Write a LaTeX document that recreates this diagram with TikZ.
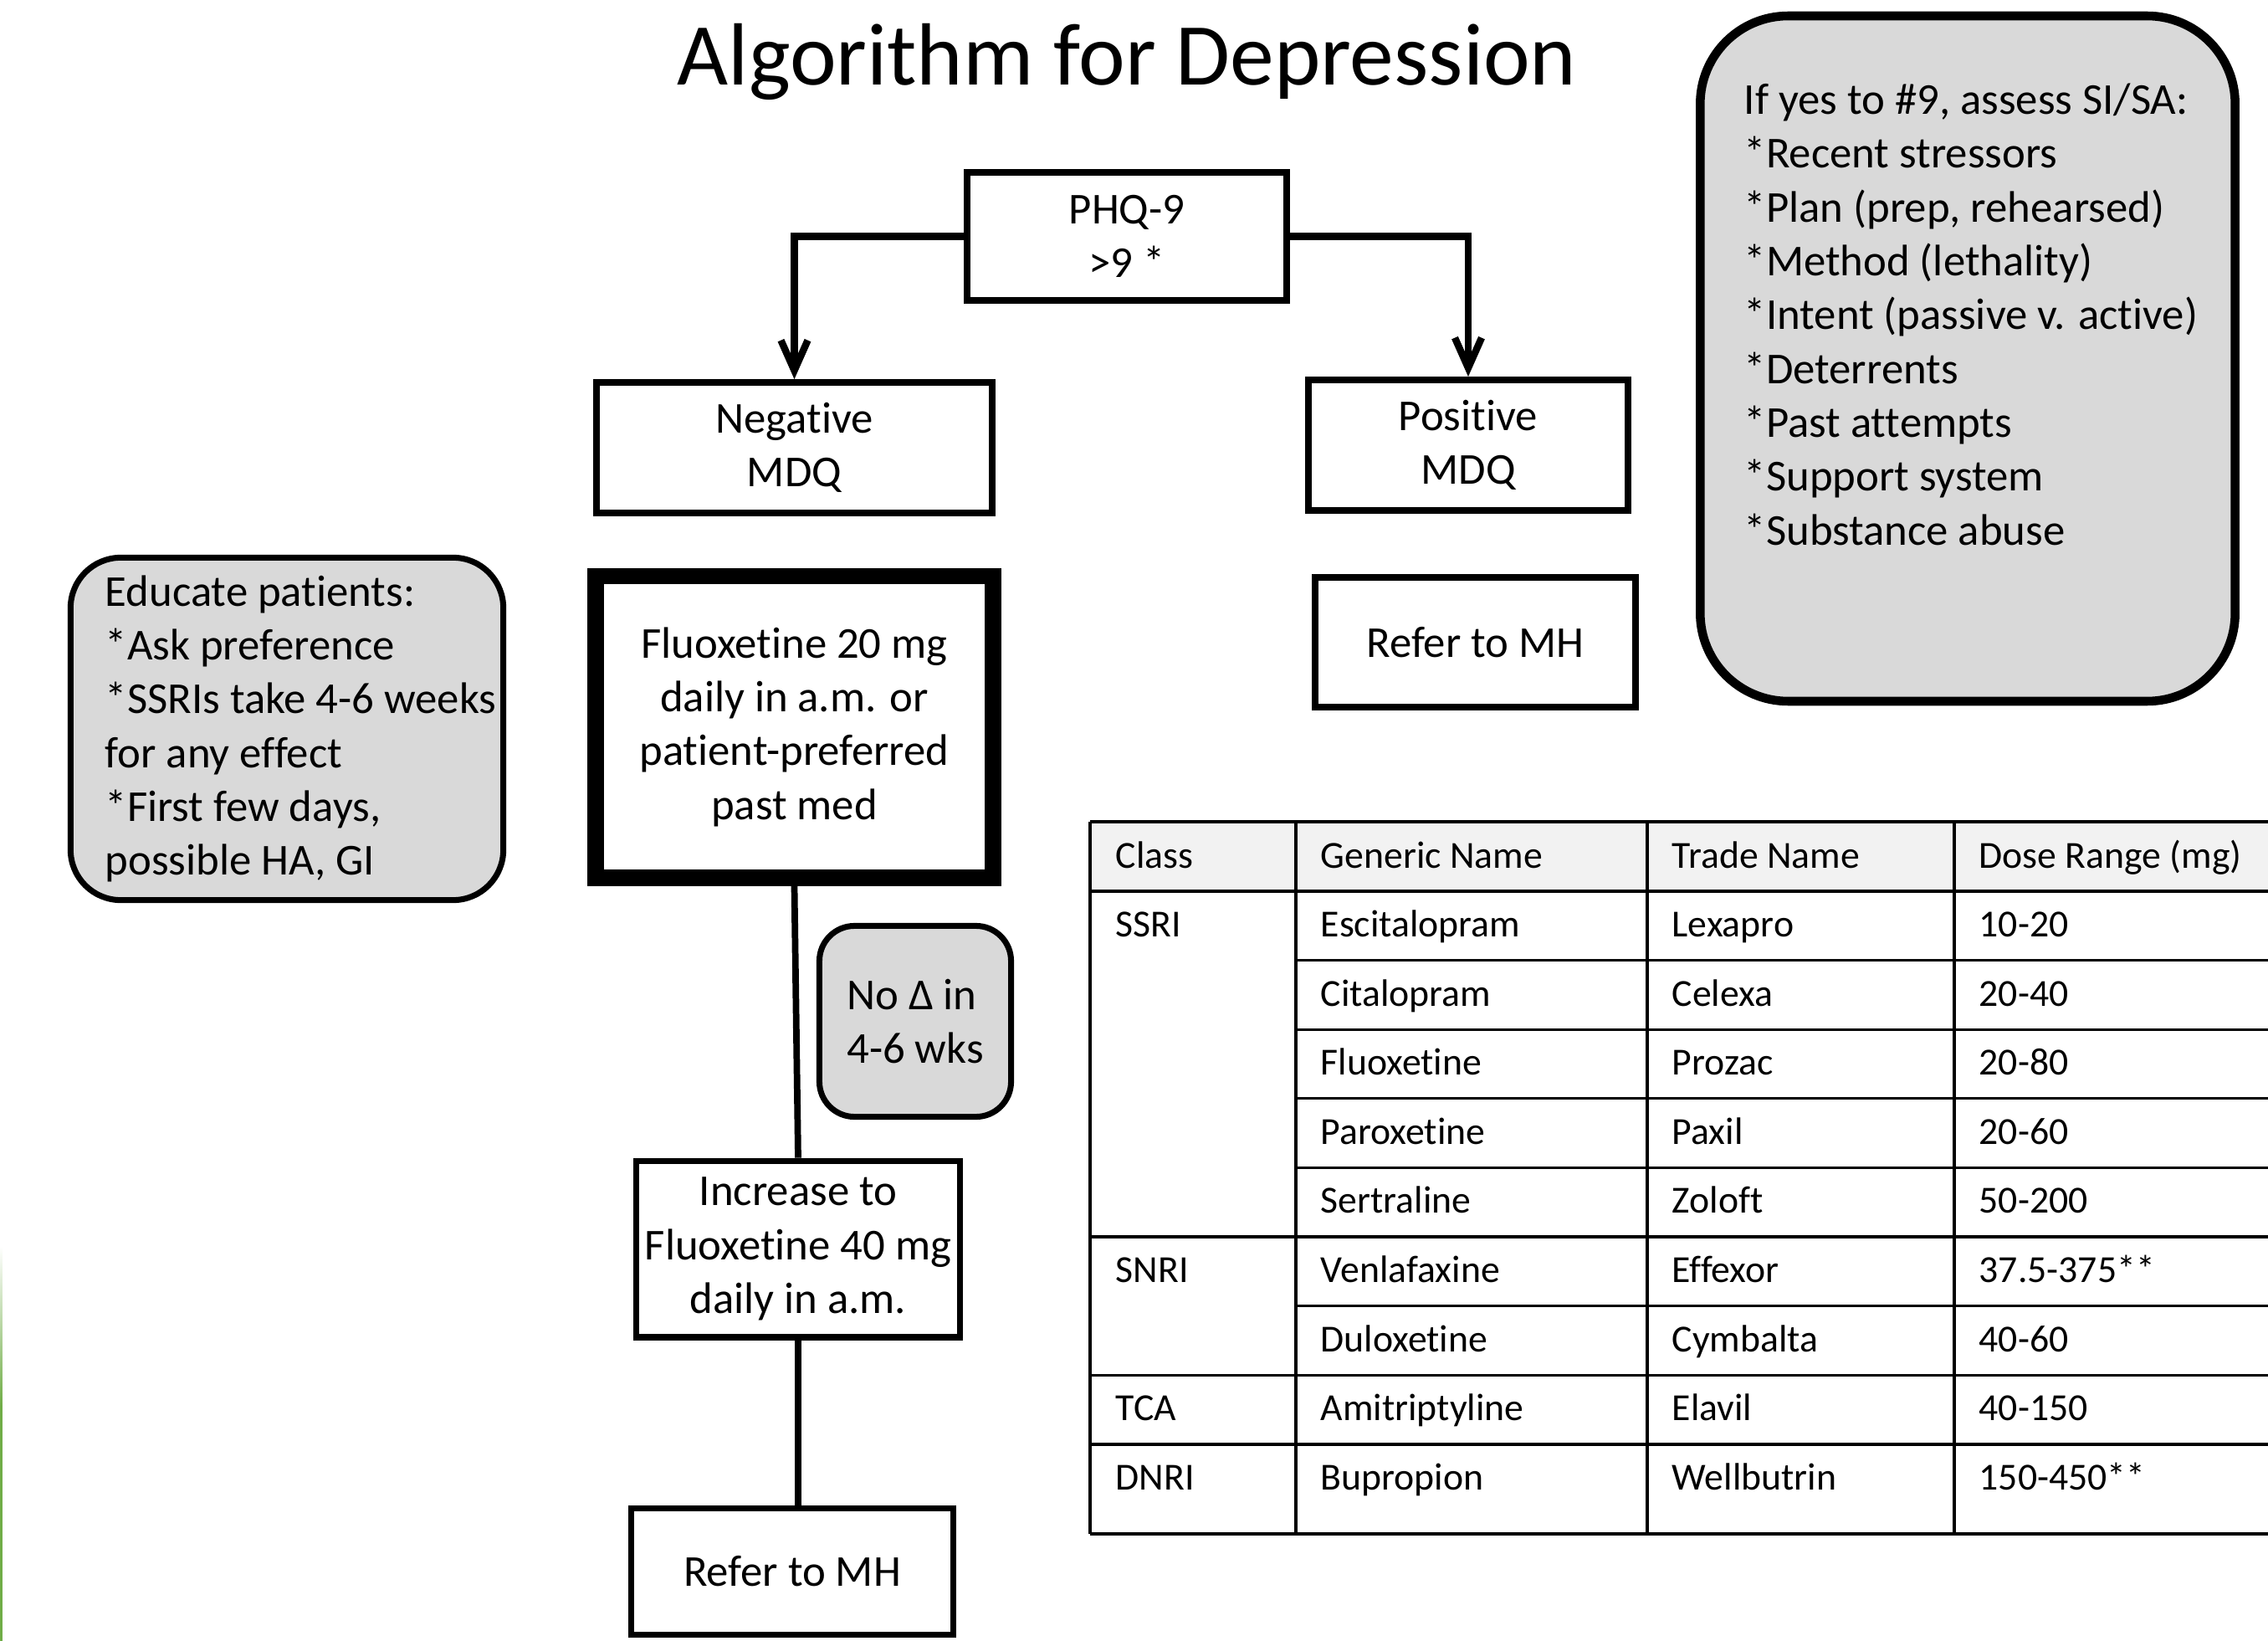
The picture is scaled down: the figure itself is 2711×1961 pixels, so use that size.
\documentclass[tikz,border=0pt]{standalone}
\usepackage{fontspec}
\setmainfont[Ligatures=NoCommon]{Carlito}
\usetikzlibrary{positioning, arrows.meta}

\definecolor{notegray}{RGB}{217,217,217}
\definecolor{headgray}{RGB}{242,242,242}
\definecolor{edgegreen}{RGB}{112,173,71}

\newcommand{\flowfont}{\fontsize{15pt}{18.3pt}\selectfont}
\newcommand{\cellfont}{\fontsize{13pt}{15.6pt}\selectfont}
\newcommand{\titlefont}{\fontsize{30pt}{36pt}\selectfont}

\begin{document}
\begin{tikzpicture}[
    x=0.01cm, y=-0.01cm,
    box/.style={rectangle, draw, line width=2.2pt, align=center, font=\flowfont, inner sep=2pt},
    heavybox/.style={box, line width=5.5pt},
    note/.style={rectangle, draw, rounded corners=0.6cm, fill=notegray, line width=2pt,
                 inner sep=0pt, font=\flowfont},
    arr/.style={-{Straight Barb[length=3.6mm, width=3.2mm]}, line width=2.4pt},
    link/.style={line width=2.2pt},
    cell/.style={anchor=base west, inner sep=0pt, font=\cellfont},
    rule/.style={line width=0.9pt},
]
\useasboundingbox (0,0) rectangle (2711,1961);

% Title
\node[font=\titlefont, anchor=base, inner sep=0pt] (title) at (1347,102) {Algorithm for Depression};

% Screening
\node[box, minimum width=3.82cm, minimum height=1.53cm] (phq) at (1347,282.5) {PHQ-9\\>9 *};
\node[box, minimum width=4.73cm, minimum height=1.56cm] (neg) at (949.5,535) {Negative\\MDQ};
\node[box, minimum width=3.82cm, minimum height=1.56cm] (pos) at (1755,532) {Positive\\MDQ};
\node[box, minimum width=3.83cm, minimum height=1.55cm, below=0.72cm of pos, xshift=0.085cm] (mh1) {Refer to MH};

% Treatment path
\node[heavybox, minimum width=4.75cm, minimum height=3.60cm, below=0.62cm of neg] (fluox)
    {Fluoxetine 20 mg\\daily in a.m. or\\patient-preferred\\past med};
\node[box, minimum width=3.87cm, minimum height=2.10cm, below=3.25cm of fluox, xshift=0.045cm] (inc)
    {Increase to\\Fluoxetine 40 mg\\daily in a.m.};
\node[box, minimum width=3.85cm, minimum height=1.51cm, below=1.97cm of inc, xshift=-0.07cm] (mh2) {Refer to MH};

% Notes
\node[note, rounded corners=0.42cm, minimum width=2.29cm, minimum height=2.28cm, align=left] (nochange)
    at (1094,1220.5) {No Δ in\\4-6 wks};
\node[note, minimum width=5.17cm, minimum height=4.09cm] (edu) at (343,871)
    {\parbox{5.14cm}{\leftskip=0.4cm Educate patients:\\{}*Ask preference\\{}*SSRIs take 4-6 weeks\\for any effect\\{}*First few days,\\possible HA, GI}};
\node[note, line width=3pt, rounded corners=1.05cm, minimum width=6.39cm, minimum height=8.185cm] (sisa) at (2352,428.5)
    {\parbox[c][7.9cm][t]{6.2cm}{\leftskip=0.43cm\vspace*{0.58cm}\strut If yes to \#9, assess SI/SA:\\{}*Recent stressors\\{}*Plan (prep, rehearsed)\\{}*Method (lethality)\\{}*Intent (passive v. active)\\{}*Deterrents\\{}*Past attempts\\{}*Support system\\{}*Substance abuse}};

% Connectors
\draw[arr] (phq.west) -| (neg.north);
\draw[arr] (phq.east) -| (pos.north);
\draw[link] (fluox.south) -- (inc.north);
\draw[link] (inc.south) -- (inc.south |- mh2.north);

% Table
\fill[headgray] (1303,982) rectangle (2711,1065);
\foreach \y in {982,1065,1478,1643.2,1726,1833}
    \draw[rule] (1303,\y) -- (2711,\y);
\foreach \y in {1147.6,1230.2,1312.8,1395.4,1560.8}
    \draw[rule] (1549,\y) -- (2711,\y);
\foreach \x in {1303,1549,1969,2336}
    \draw[rule] (\x,982) -- (\x,1833);

\foreach \txt/\x [count=\c] in {Class/1333, Generic Name/1578, Trade Name/1998, Dose Range (mg)/2365}
    \node[cell] (head\c) at (\x,1037) {\txt};
\foreach \gen/\trade/\dose [count=\r] in {Escitalopram/Lexapro/10-20, Citalopram/Celexa/20-40,
        Fluoxetine/Prozac/20-80, Paroxetine/Paxil/20-60, Sertraline/Zoloft/50-200,
        Venlafaxine/Effexor/37.5-375**, Duloxetine/Cymbalta/40-60,
        Amitriptyline/Elavil/40-150, Bupropion/Wellbutrin/150-450**} {
    \node[cell] (gen\r) at (1578,{1119.5+82.6*(\r-1)}) {\gen};
    \node[cell] (trade\r) at (1998,{1119.5+82.6*(\r-1)}) {\trade};
    \node[cell] (dose\r) at (2365,{1119.5+82.6*(\r-1)}) {\dose};
}
\foreach \cls/\r in {SSRI/1, SNRI/6, TCA/8, DNRI/9}
    \node[cell] (cls\cls) at (1333,{1119.5+82.6*(\r-1)}) {\cls};

% Left edge
\shade[top color=white, bottom color=edgegreen] (0,1489) rectangle (3,1680);
\fill[edgegreen] (0,1680) rectangle (3,1961);

\end{tikzpicture}
\end{document}
